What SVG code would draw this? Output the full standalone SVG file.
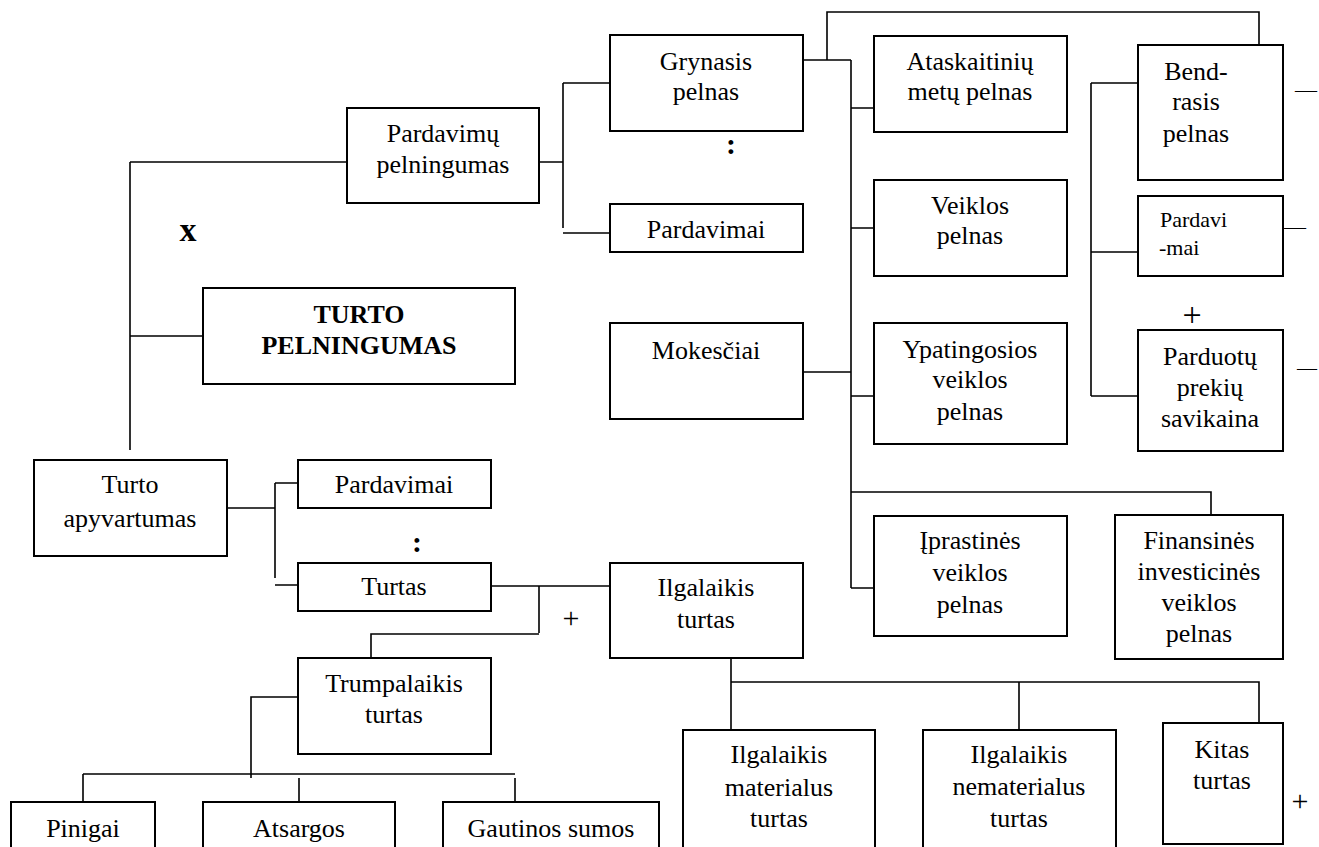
<svg xmlns="http://www.w3.org/2000/svg" width="1319" height="847" viewBox="0 0 1319 847">
<style>
.b{fill:#fff;stroke:#000;stroke-width:2}
.c path{fill:none;stroke:#000;stroke-width:1.6}
text{font-family:"Liberation Serif","Times New Roman",serif;font-size:26px;fill:#000}
.m{text-anchor:middle}
.bd{font-weight:bold}
.s{font-size:22px}
</style>
<rect width="1319" height="847" fill="#fff"/>
<g class="c" id="connectors">
<path d="M130,162 H347 M130,162 V450 M130,336 H203"/>
<path d="M539,162 H563 M563,83 V228 M563,83 H610 M563,233 H610"/>
<path d="M803,60 H851 M827,60 V12 H1259 V45 M851,60 V588 M851,108 H874 M851,228 H874 M851,396 H874 M803,372 H851 M851,492 H1211 V515 M851,588 H874"/>
<path d="M1091,83 V396 M1091,83 H1138 M1091,252 H1138 M1091,396 H1138"/>
<path d="M227,508 H275 M275,483 V578 M275,483 H298 M275,585 H298"/>
<path d="M491,586 H610 M539,586 V633 M539,634 H371 V658"/>
<path d="M298,697 H251 V778 M83,774 H515 M83,774 V802 M299,778 V802 M515,778 V802"/>
<path d="M731,658 V730 M731,682 H1259 V733 M1019,682 V730"/>
</g>
<g id="pardavimu-pelningumas"><rect class="b" x="347" y="108" width="192" height="95"/><text class="m" x="443" y="142">Pardavimų</text><text class="m" x="443" y="173">pelningumas</text></g>
<g id="turto-pelningumas"><rect class="b" x="203" y="288" width="312" height="96"/><text class="m bd" x="359" y="323">TURTO</text><text class="m bd" x="359" y="354">PELNINGUMAS</text></g>
<g id="grynasis"><rect class="b" x="610" y="35" width="193" height="96"/><text class="m" x="706" y="70">Grynasis</text><text class="m" x="706" y="100">pelnas</text></g>
<g id="pardavimai1"><rect class="b" x="610" y="204" width="193" height="48"/><text class="m" x="706" y="238">Pardavimai</text></g>
<g id="mokesciai"><rect class="b" x="610" y="323" width="193" height="96"/><text class="m" x="706" y="359">Mokesčiai</text></g>
<g id="ataskaitiniu"><rect class="b" x="874" y="36" width="193" height="96"/><text class="m" x="970" y="70">Ataskaitinių</text><text class="m" x="970" y="100">metų pelnas</text></g>
<g id="veiklos"><rect class="b" x="874" y="180" width="193" height="96"/><text class="m" x="970" y="214">Veiklos</text><text class="m" x="970" y="244">pelnas</text></g>
<g id="ypatingosios"><rect class="b" x="874" y="323" width="193" height="121"/><text class="m" x="970" y="358">Ypatingosios</text><text class="m" x="970" y="388">veiklos</text><text class="m" x="970" y="420">pelnas</text></g>
<g id="iprastines"><rect class="b" x="874" y="516" width="193" height="120"/><text class="m" x="970" y="549">Įprastinės</text><text class="m" x="970" y="581">veiklos</text><text class="m" x="970" y="613">pelnas</text></g>
<g id="finansines"><rect class="b" x="1115" y="515" width="168" height="144"/><text class="m" x="1199" y="549">Finansinės</text><text class="m" x="1199" y="580">investicinės</text><text class="m" x="1199" y="611">veiklos</text><text class="m" x="1199" y="642">pelnas</text></g>
<g id="bendrasis"><rect class="b" x="1138" y="45" width="145" height="135"/><text class="m" x="1196" y="80">Bend-</text><text class="m" x="1196" y="110">rasis</text><text class="m" x="1196" y="142">pelnas</text></g>
<g id="pardavi-mai"><rect class="b" x="1138" y="196" width="145" height="80"/><text class="s" x="1160" y="227">Pardavi</text><text class="s" x="1159" y="255">-mai</text></g>
<g id="parduotu"><rect class="b" x="1138" y="330" width="145" height="121"/><text class="m" x="1210" y="365">Parduotų</text><text class="m" x="1210" y="396">prekių</text><text class="m" x="1210" y="427">savikaina</text></g>
<g id="turto-apyvartumas"><rect class="b" x="34" y="460" width="193" height="96"/><text class="m" x="130" y="493">Turto</text><text class="m" x="130" y="527">apyvartumas</text></g>
<g id="pardavimai2"><rect class="b" x="298" y="460" width="193" height="48"/><text class="m" x="394" y="493">Pardavimai</text></g>
<g id="turtas"><rect class="b" x="298" y="563" width="193" height="48"/><text class="m" x="394" y="595">Turtas</text></g>
<g id="ilgalaikis-turtas"><rect class="b" x="610" y="563" width="193" height="95"/><text class="m" x="706" y="596">Ilgalaikis</text><text class="m" x="706" y="628">turtas</text></g>
<g id="trumpalaikis"><rect class="b" x="298" y="658" width="193" height="96"/><text class="m" x="394" y="692">Trumpalaikis</text><text class="m" x="394" y="723">turtas</text></g>
<g id="pinigai"><rect class="b" x="11" y="802" width="144" height="60"/><text class="m" x="83" y="837">Pinigai</text></g>
<g id="atsargos"><rect class="b" x="203" y="802" width="192" height="60"/><text class="m" x="299" y="837">Atsargos</text></g>
<g id="gautinos"><rect class="b" x="443" y="802" width="216" height="60"/><text class="m" x="551" y="837">Gautinos sumos</text></g>
<g id="ilg-materialus"><rect class="b" x="683" y="730" width="192" height="130"/><text class="m" x="779" y="763">Ilgalaikis</text><text class="m" x="779" y="796">materialus</text><text class="m" x="779" y="827">turtas</text></g>
<g id="ilg-nematerialus"><rect class="b" x="923" y="730" width="193" height="130"/><text class="m" x="1019" y="763">Ilgalaikis</text><text class="m" x="1019" y="795">nematerialus</text><text class="m" x="1019" y="827">turtas</text></g>
<g id="kitas"><rect class="b" x="1163" y="723" width="120" height="121"/><text class="m" x="1222" y="758">Kitas</text><text class="m" x="1222" y="789">turtas</text></g>
<g id="signs">
<text class="m bd" x="188" y="241" style="font-size:34px">x</text>
<text class="m bd" x="731" y="154" style="font-size:30px">:</text>
<text class="m bd" x="417" y="552" style="font-size:30px">:</text>
<text class="m" x="571" y="628" style="font-size:30px">+</text>
<text class="m" x="1192" y="326" style="font-size:34px">+</text>
<text class="m" x="1300" y="811" style="font-size:30px">+</text>
<text x="1295" y="97" style="font-size:22px">—</text>
<text x="1284" y="234" style="font-size:22px">—</text>
<text x="1297" y="375" style="font-size:20px">—</text>
</g>
</svg>
